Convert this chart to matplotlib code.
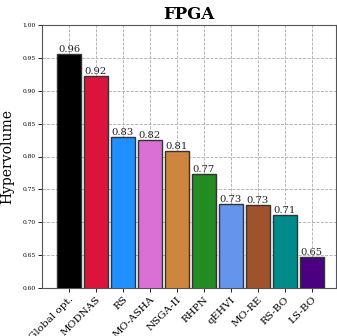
import matplotlib
matplotlib.use("Agg")
import matplotlib.pyplot as plt

methods = ["Global opt.", "MODNAS", "RS", "MO-ASHA", "NSGA-II", "RHPN",
           "qEHVI", "MO-RE", "RS-BO", "LS-BO"]
hypervolume = [0.956, 0.922, 0.829, 0.825, 0.809, 0.774, 0.728, 0.726, 0.711, 0.647]
colors = ["black", "crimson", "dodgerblue", "orchid", "peru", "forestgreen",
          "cornflowerblue", "sienna", "darkcyan", "indigo"]

plt.rcParams["font.family"] = "DejaVu Serif"

fig = plt.figure(figsize=(3.37, 3.36), dpi=100)
ax = fig.add_axes([42 / 337, 1 - 288 / 336, (336 - 42) / 337, (288 - 25) / 336])

x = list(range(len(methods)))
bars = ax.bar(x, hypervolume, width=0.9, color=colors, edgecolor="#333333",
              linewidth=1.0, zorder=3)
for rect, v in zip(bars, hypervolume):
    ax.text(rect.get_x() + rect.get_width() / 2, v, f"{v:.2f}",
            ha="center", va="bottom", fontsize=7.2, color="#222222", zorder=4)

ax.set_xlim(-1.0, 9.9)
ax.set_ylim(0.60, 1.00)
ax.set_yticks([0.60, 0.65, 0.70, 0.75, 0.80, 0.85, 0.90, 0.95, 1.00])
ax.set_xticks(x)
ax.set_xticklabels(methods, rotation=45, ha="right", rotation_mode="anchor",
                   fontsize=7.5)
ax.tick_params(axis="y", labelsize=4.2, length=3, width=0.6, pad=1.5)
ax.tick_params(axis="x", length=3, width=0.6, pad=2)
ax.grid(True, linestyle="--", color="#aaaaaa", linewidth=0.6, zorder=0)
for s in ax.spines.values():
    s.set_color("#555555")
    s.set_linewidth(0.8)

ax.set_ylabel("Hypervolume", fontsize=10, labelpad=6)
ax.set_title("FPGA", fontsize=12, fontweight="bold", pad=4)

fig.savefig("out.png", dpi=100)
